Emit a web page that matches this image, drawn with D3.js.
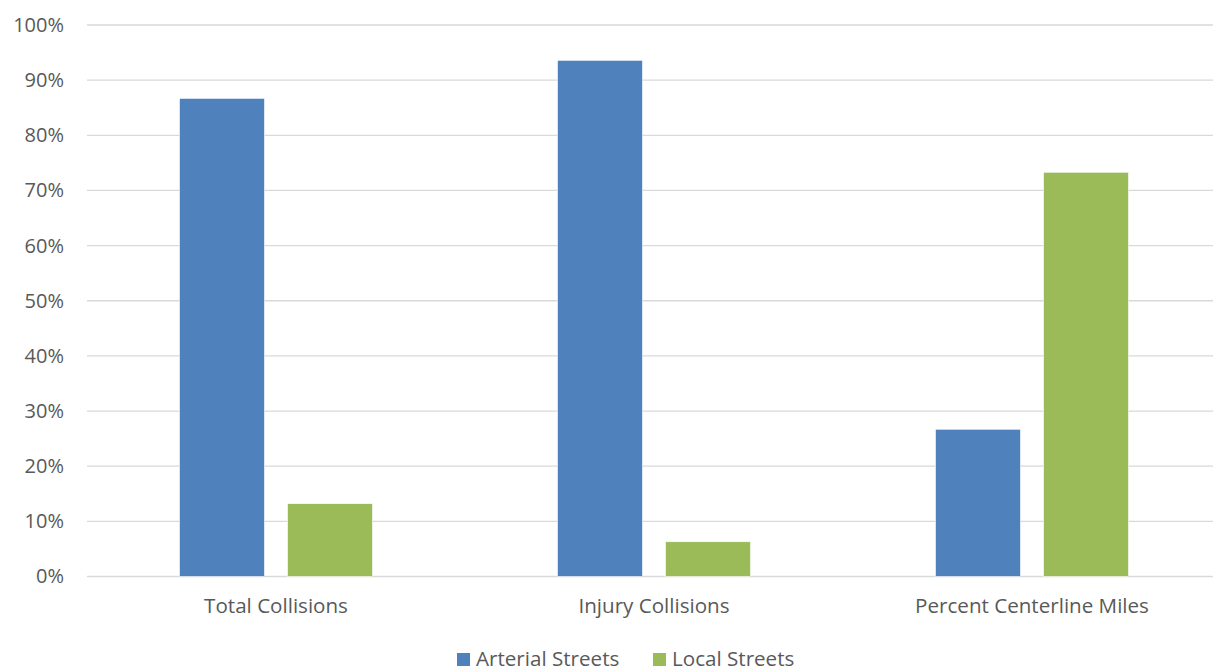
<!DOCTYPE html>
<html><head><meta charset="utf-8">
<script src="https://cdn.jsdelivr.net/npm/d3@7"></script>
<style>body{margin:0;background:#fff;} svg{display:block;font-family:"Open Sans",sans-serif;}</style>
</head><body>
<svg id="c" width="1213" height="670"></svg>
<script>
const categories = ["Total Collisions", "Injury Collisions", "Percent Centerline Miles"];
const seriesNames = ["Arterial Streets", "Local Streets"];
const arterial = [0.867, 0.936, 0.267];
const local = [0.132, 0.063, 0.733];
const yTicks = [0,0.1,0.2,0.3,0.4,0.5,0.6,0.7,0.8,0.9,1.0];
const colors = ["#4F81BD", "#9BBB59"];

(function(){
const svg = d3.select("#c");
const FONT = "'Open Sans',sans-serif";
const mLeft = 87, mRight = 1221, mTop = 25, mBottom = 576.5;
const x = d3.scaleBand().domain(categories).range([mLeft, mRight]).padding(0);
const y = d3.scaleLinear().domain([0,1]).range([mBottom, mTop]);

// gridlines
svg.append("g").selectAll("line").data(yTicks).join("line")
  .attr("x1", mLeft).attr("x2", 1213)
  .attr("y1", d=>y(d)).attr("y2", d=>y(d))
  .attr("stroke", "#d9d9d9").attr("stroke-width", 1.3);

// y axis labels
const yAxis = d3.axisLeft(y).tickValues(yTicks).tickFormat(d3.format(".0%")).tickSize(0).tickPadding(0);
const ga = svg.append("g").attr("transform", `translate(64,0)`).call(yAxis);
ga.select(".domain").remove();
ga.selectAll("text").attr("font-size", 20).attr("fill", "#595959").attr("font-family", FONT);

// bars
const sub = d3.scaleBand().domain(seriesNames).range([0, x.bandwidth()]).paddingInner(0.213).paddingOuter(0.856);
const data = categories.map((c,i)=>({c, vals:[arterial[i], local[i]]}));
const groups = svg.append("g").selectAll("g").data(data).join("g")
  .attr("transform", d=>`translate(${x(d.c)},0)`);
groups.selectAll("rect").data(d=>d.vals.map((v,j)=>({v, s:seriesNames[j], j})))
  .join("rect")
  .attr("x", d=>sub(d.s)).attr("width", sub.bandwidth())
  .attr("y", d=>y(d.v)).attr("height", d=>y(0)-y(d.v))
  .attr("fill", d=>colors[d.j]).attr("stroke", "#fff").attr("stroke-width", 0.6);

// x axis labels
const xAxis = d3.axisBottom(x).tickSize(0).tickPadding(0);
const gx = svg.append("g").attr("transform", `translate(0,598)`).call(xAxis);
gx.select(".domain").remove();
gx.selectAll("text").attr("font-size", 20.6).attr("fill", "#595959").attr("dy", "0.71em").attr("font-family", FONT);

// legend
const legendX = [457, 653];
const lg = svg.append("g").selectAll("g").data(seriesNames).join("g")
  .attr("transform", (d,i)=>`translate(${legendX[i]},653)`);
lg.append("rect").attr("width", 13).attr("height", 13).attr("fill", (d,i)=>colors[i]);
lg.append("text").attr("x", 19).attr("y", 12.5).attr("font-size", 20.6).attr("fill", "#595959").attr("font-family", FONT).text(d=>d);
})();
</script>
</body></html>
